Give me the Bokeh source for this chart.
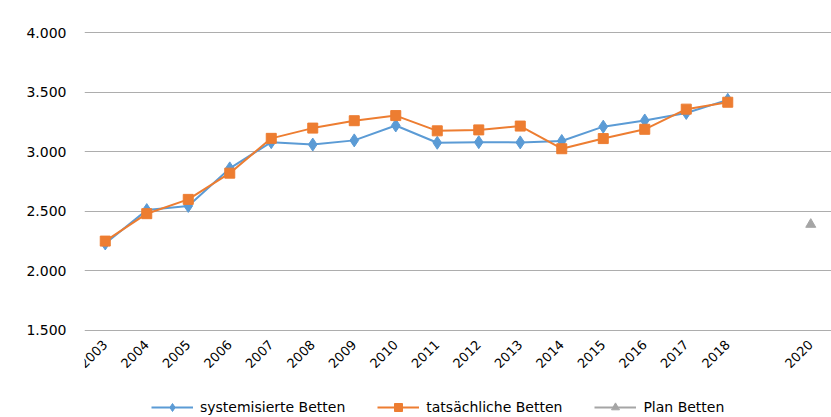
from bokeh.plotting import figure
from bokeh.models import Range1d, FixedTicker, Legend, LegendItem
from bokeh.embed import file_html
from bokeh.resources import INLINE
from math import pi

years = [2003, 2004, 2005, 2006, 2007, 2008, 2009, 2010, 2011, 2012, 2013, 2014, 2015, 2016, 2017, 2018]
systemisiert = [2230, 2510, 2545, 2860, 3080, 3060, 3095, 3220, 3075, 3080, 3078, 3090, 3210, 3262, 3325, 3435]
tatsaechlich = [2250, 2480, 2600, 2820, 3112, 3198, 3260, 3303, 3175, 3183, 3215, 3025, 3110, 3188, 3357, 3415]
plan_years = [2020]
plan = [2390]
x_ticks = years + plan_years
y_ticks = [1500, 2000, 2500, 3000, 3500, 4000]
y_tick_labels = ["1.500", "2.000", "2.500", "3.000", "3.500", "4.000"]

FONT = "DejaVu Sans"

p = figure(frame_width=747, frame_height=387, output_backend="svg", toolbar_location=None,
           x_range=Range1d(2002.5, 2020.5), y_range=Range1d(770.1, 4016.8),
           min_border_left=84, min_border_right=0, min_border_top=30, min_border_bottom=0,
           background_fill_color="white", border_fill_color="white")
p.outline_line_color = None

p.xgrid.grid_line_color = None
p.ygrid.grid_line_color = "#ADADAD"
p.ygrid.grid_line_width = 1
p.ygrid.ticker = FixedTicker(ticks=y_ticks)

p.yaxis.ticker = FixedTicker(ticks=y_ticks)
p.yaxis.major_label_overrides = {t: l for t, l in zip(y_ticks, y_tick_labels)}
p.yaxis.axis_line_color = None
p.yaxis.major_tick_line_color = None
p.yaxis.minor_tick_line_color = None
p.yaxis.major_label_standoff = 12
p.yaxis.major_label_text_font = FONT
p.yaxis.major_label_text_font_size = "14px"
p.yaxis.major_label_text_color = "#000000"

p.xaxis.ticker = FixedTicker(ticks=x_ticks)
p.xaxis.fixed_location = y_ticks[0]
p.xaxis.major_label_overrides = {y: str(y) for y in x_ticks}
p.xaxis.axis_line_color = None
p.xaxis.major_tick_line_color = None
p.xaxis.minor_tick_line_color = None
p.xaxis.major_label_orientation = pi / 4
p.xaxis.major_label_standoff = 6
p.xaxis.major_label_text_font = FONT
p.xaxis.major_label_text_font_size = "13px"
p.xaxis.major_label_text_color = "#000000"

BLUE = "#5B9BD5"
ORANGE = "#ED7D31"
GRAY = "#A5A5A5"

l1 = p.line(years, systemisiert, line_color=BLUE, line_width=2)
s1 = p.scatter(years, systemisiert, marker="diamond", size=13, fill_color=BLUE, line_color=BLUE)
l2 = p.line(years, tatsaechlich, line_color=ORANGE, line_width=2)
s2 = p.scatter(years, tatsaechlich, marker="square", size=10, fill_color=ORANGE, line_color=ORANGE)
l3 = p.line(plan_years, plan, line_color=GRAY, line_width=2)
s3 = p.scatter(plan_years, plan, marker="triangle", size=10, fill_color=GRAY, line_color=GRAY)

legend = Legend(items=[
    LegendItem(label="systemisierte Betten", renderers=[l1, s1]),
    LegendItem(label="tatsächliche Betten", renderers=[l2, s2]),
    LegendItem(label="Plan Betten", renderers=[l3, s3]),
], location=(67, 0), orientation="horizontal",
    glyph_width=42, glyph_height=20, label_height=20, label_standoff=7, spacing=32,
    padding=0, margin=0, border_line_color=None, background_fill_alpha=0,
    label_text_font=FONT, label_text_font_size="14px", label_text_color="#000000")
p.add_layout(legend, "center")

open("out.html", "w").write(file_html(p, INLINE))
